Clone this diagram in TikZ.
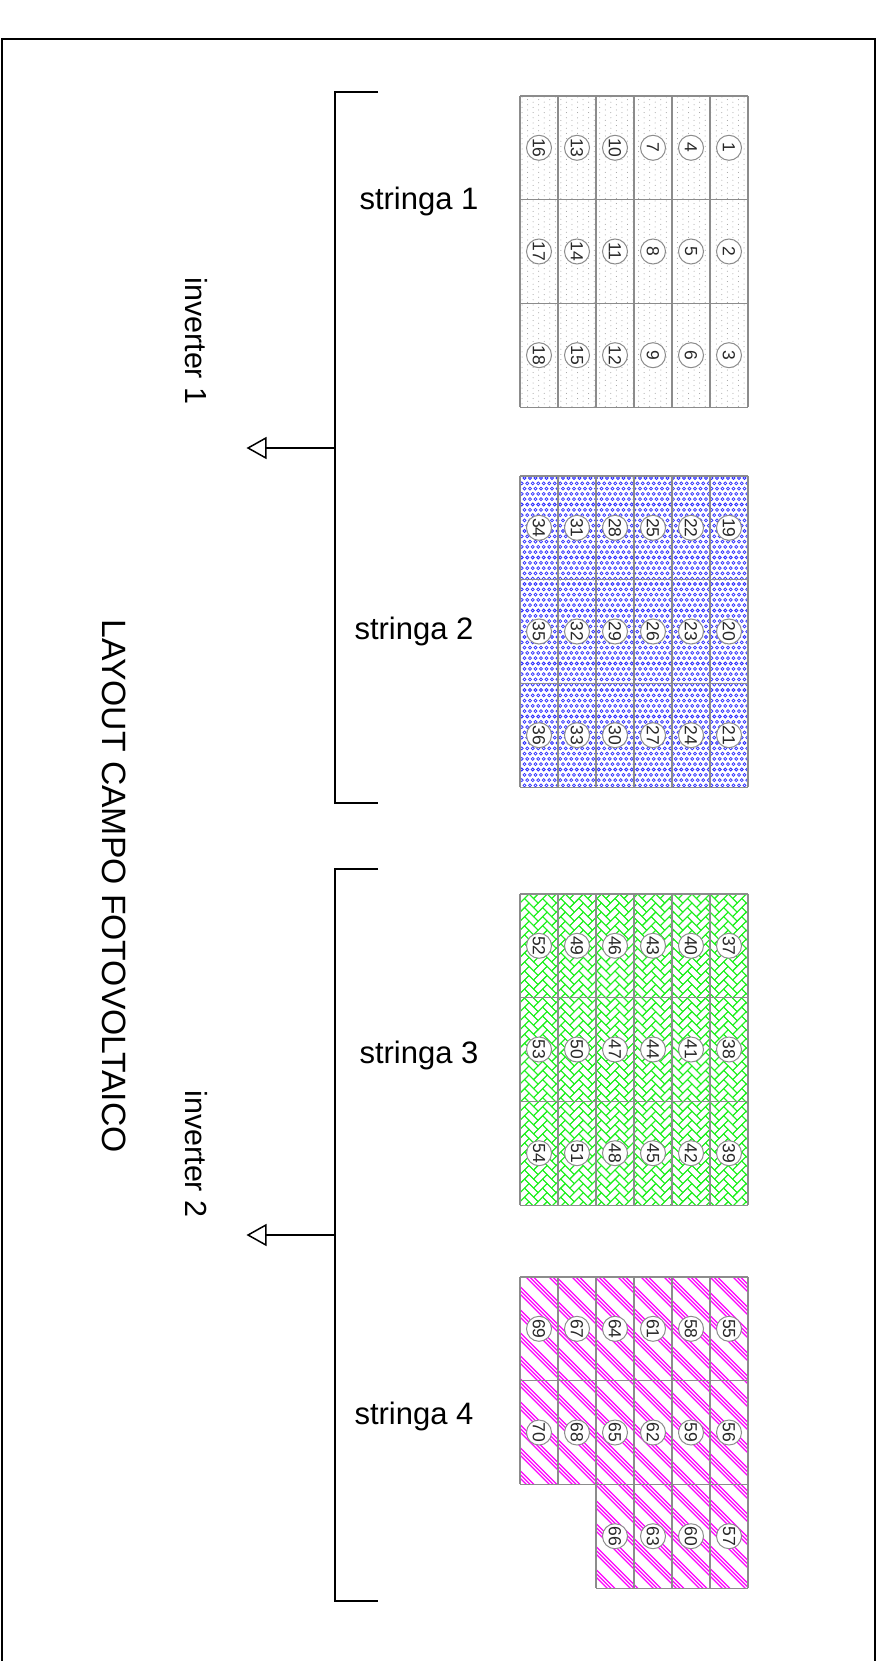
\documentclass[tikz,border=0pt]{standalone}
\usepackage{fontspec}
\setmainfont{Liberation Sans}
\usetikzlibrary{arrows.meta}
\definecolor{gridgray}{RGB}{140,140,140}
\definecolor{ringblue}{RGB}{50,50,255}
\definecolor{herrgreen}{RGB}{30,240,30}
\definecolor{hatchmag}{RGB}{255,0,255}
\definecolor{numdark}{RGB}{40,40,40}
\tikzset{
  frameline/.style={line width=1.5pt,black},
  bracketline/.style={line width=1.5pt,black},
  gridline/.style={line width=1.1pt,gridgray},
  numcircle/.style={circle,minimum size=25pt,inner sep=0pt,fill=white,draw=gridgray,line width=1pt,rotate=-90,text=numdark,font=\fontsize{17.5}{17.5}\selectfont},
  strlabel/.style={font=\fontsize{31}{31}\selectfont,black},
  invlabel/.style={font=\fontsize{30.5}{30.5}\selectfont,black,rotate=-90},
  titlelabel/.style={font=\fontsize{33.7}{33.7}\selectfont,black,rotate=-90},
}
\newcommand{\cellgrid}[2]{%
  \foreach \cc in {0,...,6}{\draw[gridline] ({520+\cc*38},{#1}) -- ({520+\cc*38},{#1+#2});}
  \foreach \rr in {0,...,3}{\draw[gridline] (520,{#1+\rr*103.7}) -- (748,{#1+\rr*103.7});}
}
\newcommand{\numbers}[2]{%
  \foreach \cc in {0,...,5}{\foreach \rr in {0,1,2}{
    \pgfmathtruncatemacro{\nn}{#2+(5-\cc)*3+\rr}
    \node[numcircle] (n\nn) at ({539+\cc*38},{#1+51.8+\rr*103.7}) {\nn};
  }}
}
\begin{document}
\begin{tikzpicture}[x=1pt,y=-1pt]
\useasboundingbox (0,0) rectangle (888,1661);
\fill[white] (0,0) rectangle (888,1661);
% frame
\coordinate (fa) at (2,1661);
\coordinate (fb) at (2,39);
\coordinate (fc) at (875,39);
\coordinate (fd) at (875,1661);
\draw[frameline] (fa) -- (fb) -- (fc) -- (fd);
% brackets
\coordinate (b1a) at (378,92);
\coordinate (b1b) at (335,92);
\coordinate (b1c) at (335,803);
\coordinate (b1d) at (378,803);
\coordinate (j1) at (335,448);
\coordinate (t1) at (246.5,448);
\draw[bracketline] (b1a) -- (b1b) -- (b1c) -- (b1d);
\draw[bracketline,-{Triangle[open,length=20pt,width=22pt,line width=1.5pt]}] (j1) -- (t1);
\coordinate (b2a) at (378,869);
\coordinate (b2b) at (335,869);
\coordinate (b2c) at (335,1601);
\coordinate (b2d) at (378,1601);
\coordinate (j2) at (335,1235);
\coordinate (t2) at (246.5,1235);
\draw[bracketline] (b2a) -- (b2b) -- (b2c) -- (b2d);
\draw[bracketline,-{Triangle[open,length=20pt,width=22pt,line width=1.5pt]}] (j2) -- (t2);
% stringa 1 dots
\begin{scope}
\clip (520,96) rectangle (748,407);
\foreach \i in {0,...,41}{
  \pgfmathsetmacro{\off}{mod(\i,2)*2.6}
  \foreach \j in {0,...,60}{
    \fill[gray!80] ({522+\i*5.55},{97+\off+\j*5.2}) circle (0.5pt);
  }
}
\end{scope}
\cellgrid{96}{311.1}
\numbers{96}{1}
% stringa 2 rings
\begin{scope}
\clip (520,476) rectangle (748,787);
\foreach \j in {0,...,59}{
  \pgfmathsetmacro{\off}{mod(\j,2)*2.75}
  \foreach \i in {0,...,42}{
    \draw[ringblue,line width=0.75pt] ({519+\off+\i*5.5},{478+\j*5.3}) circle (1.5pt);
  }
}
\end{scope}
\cellgrid{476}{311.1}
\numbers{476}{19}
% stringa 3 herringbone
\begin{scope}
\clip (520,894) rectangle (748,1205);
\foreach \i in {-1,...,13}{
  \foreach \j in {-3,...,36}{
    \begin{scope}[shift={({520+\i*18.1},{894+\j*9.05})},rotate=45,x=6.4pt,y=6.4pt]
      \draw[herrgreen,line width=0.9pt] (0,0) rectangle (2,1);
      \draw[herrgreen,line width=0.9pt] (0,1) rectangle (1,3);
    \end{scope}
  }
}
\end{scope}
\cellgrid{894}{311.1}
\numbers{894}{37}
% stringa 4 hatch
\begin{scope}
\clip (520,1277) -- (748,1277) -- (748,1588) -- (596,1588) -- (596,1484.4) -- (520,1484.4) -- cycle;
\foreach \k in {-12,...,15}{
  \foreach \d in {0,3.7,7.4}{
    \draw[hatchmag,line width=1.25pt] ({411+\k*23+\d},1277) -- ({411+\k*23+\d+320},1597);
  }
}
\end{scope}
\foreach \cc in {0,1,2}{\draw[gridline] ({520+\cc*38},1277) -- ({520+\cc*38},1484.4);}
\foreach \cc in {2,3,...,6}{\draw[gridline] ({520+\cc*38},1277) -- ({520+\cc*38},1588.1);}
\foreach \rr in {0,1,2}{\draw[gridline] (520,{1277+\rr*103.7}) -- (748,{1277+\rr*103.7});}
\draw[gridline] (596,1588.1) -- (748,1588.1);
\foreach \cc/\rr/\nn in {5/0/55,5/1/56,5/2/57,4/0/58,4/1/59,4/2/60,3/0/61,3/1/62,3/2/63,2/0/64,2/1/65,2/2/66,1/0/67,1/1/68,0/0/69,0/1/70}{
  \node[numcircle] (n\nn) at ({539+\cc*38},{1277+51.8+\rr*103.7}) {\nn};
}
% labels
\node[strlabel] (s1) at (419,201) {stringa 1};
\node[strlabel] (s2) at (414,631) {stringa 2};
\node[strlabel] (s3) at (419,1055) {stringa 3};
\node[strlabel] (s4) at (414,1416) {stringa 4};
\node[invlabel] (i1) at (196,341) {inverter 1};
\node[invlabel] (i2) at (196,1154) {inverter 2};
\node[titlelabel] (tt) at (114,886) {LAYOUT CAMPO FOTOVOLTAICO};
\end{tikzpicture}
\end{document}
